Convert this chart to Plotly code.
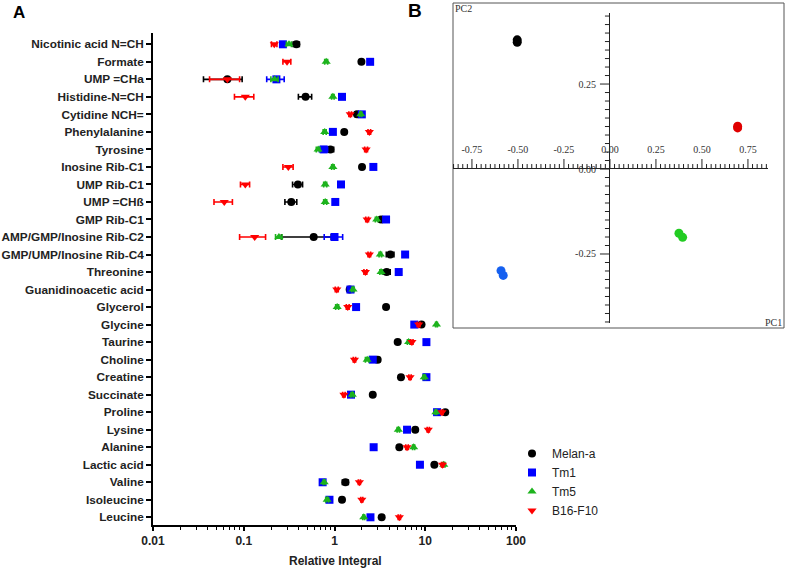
import plotly.graph_objects as go

W, H = 787, 570

metabolites = ["Nicotinic acid N=CH", "Formate", "UMP =CHa", "Histidine-N=CH", "Cytidine NCH=",
               "Phenylalanine", "Tyrosine", "Inosine Rib-C1", "UMP Rib-C1", "UMP =CHß",
               "GMP Rib-C1", "AMP/GMP/Inosine Rib-C2", "GMP/UMP/Inosine Rib-C4", "Threonine",
               "Guanidinoacetic acid", "Glycerol", "Glycine", "Taurine", "Choline", "Creatine",
               "Succinate", "Proline", "Lysine", "Alanine", "Lactic acid", "Valine",
               "Isoleucine", "Leucine"]

melan_a = [0.38, 1.98, 0.066, 0.48, 1.77, 1.28, 0.90, 2.01, 0.395, 0.334, 3.26, 0.59, 4.12, 3.76,
           1.47, 3.7, 9.1, 4.97, 2.99, 5.4, 2.64, 16.6, 7.76, 5.18, 12.6, 1.32, 1.21, 3.31]
melan_a_err = [0.03, 0.05, 0.030, 0.08, 0.1, 0.05, 0.08, 0.1, 0.05, 0.05, 0.15, 0.33, 0.4, 0.35,
               0.05, 0.2, 0.3, 0.1, 0.15, 0.2, 0.1, 0.5, 0.3, 0.2, 0.4, 0.1, 0.05, 0.1]

tm1 = [0.27, 2.47, 0.229, 1.21, 2.0, 0.96, 0.76, 2.68, 1.18, 1.02, 3.7, 1.0, 6.0, 5.1,
       1.5, 1.73, 7.57, 10.3, 2.64, 10.3, 1.52, 13.5, 6.3, 2.7, 8.74, 0.74, 0.88, 2.49]
tm1_err = [0.02, 0.1, 0.05, 0.05, 0.05, 0.05, 0.08, 0.1, 0.05, 0.05, 0.2, 0.23, 0.2, 0.2,
           0.05, 0.1, 0.3, 0.3, 0.1, 0.3, 0.05, 0.4, 0.2, 0.1, 0.3, 0.02, 0.03, 0.1]

tm5 = [0.315, 0.81, 0.219, 0.96, 1.95, 0.78, 0.66, 0.96, 0.79, 0.79, 2.92, 0.244, 3.2, 3.26,
       1.6, 1.07, 13.3, 6.56, 2.29, 9.75, 1.57, 13.1, 5.05, 7.45, 16.0, 0.77, 0.83, 2.1]
tm5_err = [0.02, 0.03, 0.02, 0.03, 0.05, 0.03, 0.03, 0.03, 0.03, 0.03, 0.1, 0.02, 0.1, 0.1,
           0.05, 0.04, 0.3, 0.2, 0.1, 0.3, 0.05, 0.3, 0.15, 0.2, 0.5, 0.02, 0.03, 0.05]

b16_f10 = [0.217, 0.30, 0.066, 0.104, 1.49, 2.42, 2.23, 0.31, 0.104, 0.061, 2.29, 0.132, 2.42, 2.19,
           1.06, 1.40, 8.45, 7.13, 1.66, 6.8, 1.27, 15.3, 10.8, 6.3, 15.5, 1.88, 2.0, 5.18]
b16_f10_err = [0.015, 0.03, 0.024, 0.025, 0.05, 0.08, 0.08, 0.04, 0.012, 0.014, 0.08, 0.042, 0.08, 0.08,
               0.04, 0.05, 0.3, 0.2, 0.05, 0.2, 0.04, 0.4, 0.3, 0.2, 0.4, 0.05, 0.05, 0.15]

x_tick_vals = [0.01, 0.1, 1, 10, 100]
x_tick_text = ["0.01", "0.1", "1", "10", "100"]

# PCA scores (panel B)
pc1_melan = [-0.504, -0.504]
pc2_melan = [0.373, 0.380]
pc1_tm1 = [-0.592, -0.580]
pc2_tm1 = [-0.299, -0.313]
pc1_tm5 = [0.375, 0.395]
pc2_tm5 = [-0.189, -0.201]
pc1_b16 = [0.694, 0.694]
pc2_b16 = [0.121, 0.126]

pc1_range = [-0.853, 0.859]
pc2_range = [-0.453, 0.459]
pc_x_ticks_neg = [-0.75, -0.5, -0.25]
pc_x_text_neg = ["-0.75", "-0.50", "-0.25"]
pc_x_ticks_pos = [0.0, 0.25, 0.5, 0.75]
pc_x_text_pos = ["0.00", "0.25", "0.50", "0.75"]
pc_y_ticks_pos = [0.25]
pc_y_text_pos = ["0.25"]
pc_y_ticks_neg = [-0.25, 0.0]
pc_y_text_neg = ["-0.25", "0.00"]
pc_minor_step = 0.025

series = [
    ("Melan-a", melan_a, melan_a_err, "black", "circle"),
    ("Tm1", tm1, tm1_err, "#0000FF", "square"),
    ("Tm5", tm5, tm5_err, "#1DB31D", "triangle-up"),
    ("B16-F10", b16_f10, b16_f10_err, "#FF0000", "triangle-down"),
]

fig = go.Figure()
for name, vals, errs, col, sym in series:
    fig.add_trace(go.Scatter(
        x=vals, y=metabolites, mode="markers", name=name,
        marker=dict(symbol=sym, size=8, color=col, line=dict(width=0)),
        error_x=dict(type="data", array=errs, visible=True, color=col, thickness=1.6, width=3),
        xaxis="x", yaxis="y",
    ))

# Panel B is split into quadrants so that the PC axes can cross at the origin:
# x2 = PC1 < 0, x3 = PC1 >= 0, y2 = PC2 >= 0, y3 = PC2 < 0
pca = [(pc1_melan, pc2_melan, "black"), (pc1_tm1, pc2_tm1, "#1560F0"),
       (pc1_tm5, pc2_tm5, "#22CC22"), (pc1_b16, pc2_b16, "#E00000")]
for px_, py_, col in pca:
    xa = "x2" if sum(px_) < 0 else "x3"
    ya = "y2" if sum(py_) >= 0 else "y3"
    fig.add_trace(go.Scatter(x=px_, y=py_, mode="markers", showlegend=False, cliponaxis=False,
                             marker=dict(size=9, color=col), xaxis=xa, yaxis=ya))

def fx(px):
    return px / W

def fy(py):
    return 1 - py / H

SANS = "Liberation Sans, Arial, sans-serif"
bold = dict(family=SANS, size=12, color="#222", weight="bold")
ybold = dict(family=SANS, size=11.8, color="#222", weight="bold")
serif = dict(family="Liberation Serif, Times New Roman, serif", size=10, color="#333")

def ann(text, x, y, font):
    return dict(text=text, x=fx(x), y=fy(y), xref="paper", yref="paper", showarrow=False,
                xanchor="center", yanchor="middle", font=font)

bx0, bx1, by0, by1 = 453, 768, 13, 323
ox = bx0 + (0 - pc1_range[0]) / (pc1_range[1] - pc1_range[0]) * (bx1 - bx0)
oy = by1 - (0 - pc2_range[0]) / (pc2_range[1] - pc2_range[0]) * (by1 - by0)

def pc1_to_px(v):
    return bx0 + (v - pc1_range[0]) / (pc1_range[1] - pc1_range[0]) * (bx1 - bx0)

def pc2_to_px(v):
    return by1 - (v - pc2_range[0]) / (pc2_range[1] - pc2_range[0]) * (by1 - by0)

pc_line = "#222"
axstyle = dict(ticks="outside", ticklen=11, tickwidth=1, tickcolor="rgba(0,0,0,0)", tickfont=serif,
               showline=True, linecolor=pc_line, linewidth=1, showgrid=False, zeroline=False,
               automargin=False)

# tick comb of the crossing PC axes (axis decoration, placed from the axis scale)
tick_shapes = []
major_x = pc_x_ticks_neg + pc_x_ticks_pos
major_y = pc_y_ticks_neg + pc_y_ticks_pos
k_x = int(round(max(-pc1_range[0], pc1_range[1]) / pc_minor_step))
for k in range(-k_x, k_x + 1):
    t = round(k * pc_minor_step, 4)
    if not (pc1_range[0] <= t <= pc1_range[1]):
        continue
    ln = 10 if any(abs(t - m) < 1e-9 for m in major_x) else 5
    xp = pc1_to_px(t)
    tick_shapes.append(dict(type="line", xref="paper", yref="paper",
                            x0=fx(xp), x1=fx(xp), y0=fy(oy), y1=fy(oy - ln),
                            line=dict(color=pc_line, width=1)))
k_y = int(round(max(-pc2_range[0], pc2_range[1]) / pc_minor_step))
for k in range(-k_y, k_y + 1):
    t = round(k * pc_minor_step, 4)
    if not (pc2_range[0] <= t <= pc2_range[1]):
        continue
    ln = 10 if any(abs(t - m) < 1e-9 for m in major_y) else 5
    yp = pc2_to_px(t)
    tick_shapes.append(dict(type="line", xref="paper", yref="paper",
                            x0=fx(ox - ln), x1=fx(ox), y0=fy(yp), y1=fy(yp),
                            line=dict(color=pc_line, width=1)))

fig.update_layout(
    width=W, height=H, autosize=False,
    margin=dict(l=0, r=0, t=0, b=0),
    paper_bgcolor="white", plot_bgcolor="rgba(0,0,0,0)",
    showlegend=True,
    legend=dict(x=fx(512), y=fy(439), xanchor="left", yanchor="top",
                font=dict(family=SANS, size=12, color="#222"),
                bgcolor="rgba(0,0,0,0)", tracegroupgap=0),
    xaxis=dict(type="log", domain=[fx(153), fx(516)], range=[-2, 2], automargin=False,
               tickvals=x_tick_vals, ticktext=x_tick_text, tickfont=bold,
               ticks="outside", ticklen=4, tickwidth=1.5, tickcolor="black",
               minor=dict(ticks="outside", ticklen=3, tickwidth=1.2, tickcolor="black", dtick="D1"),
               showline=True, linecolor="black", linewidth=1.8, showgrid=False, zeroline=False,
               anchor="y"),
    yaxis=dict(type="category", categoryorder="array", categoryarray=metabolites[::-1],
               domain=[fy(525), fy(33)], range=[-0.44, 27.645], automargin=False,
               tickfont=ybold, ticks="outside", ticklen=5, tickwidth=1.5, tickcolor="black",
               showline=True, linecolor="black", linewidth=1.8, showgrid=False, zeroline=False,
               anchor="x"),
    xaxis2=dict(domain=[fx(bx0), fx(ox)], range=[pc1_range[0], 0], anchor="y3", side="top",
                tickvals=pc_x_ticks_neg, ticktext=pc_x_text_neg, **axstyle),
    xaxis3=dict(domain=[fx(ox), fx(bx1)], range=[0, pc1_range[1]], anchor="y3", side="top",
                tickvals=pc_x_ticks_pos, ticktext=pc_x_text_pos, **axstyle),
    yaxis2=dict(domain=[fy(oy), fy(by0)], range=[0, pc2_range[1]], anchor="x3", side="left",
                tickvals=pc_y_ticks_pos, ticktext=pc_y_text_pos, **axstyle),
    yaxis3=dict(domain=[fy(by1), fy(oy)], range=[pc2_range[0], 0], anchor="x3", side="left",
                tickvals=pc_y_ticks_neg, ticktext=pc_y_text_neg, **axstyle),
    shapes=[dict(type="rect", xref="paper", yref="paper", x0=fx(453), x1=fx(784),
                 y0=fy(328), y1=fy(3), line=dict(color="#555", width=1))] + tick_shapes,
    annotations=[
        ann("A", 19, 13, dict(family=SANS, size=17, color="black", weight="bold")),
        ann("B", 415.5, 10.5, dict(family=SANS, size=19, color="black", weight="bold")),
        ann("Relative Integral", 335.5, 561, bold),
        ann("PC1", 773, 322, serif),
        ann("PC2", 464, 8, serif),
    ],
)

fig.write_html("out.html", config={"displayModeBar": False},
               post_script="document.body.style.margin='0';document.body.style.overflow='hidden';")
